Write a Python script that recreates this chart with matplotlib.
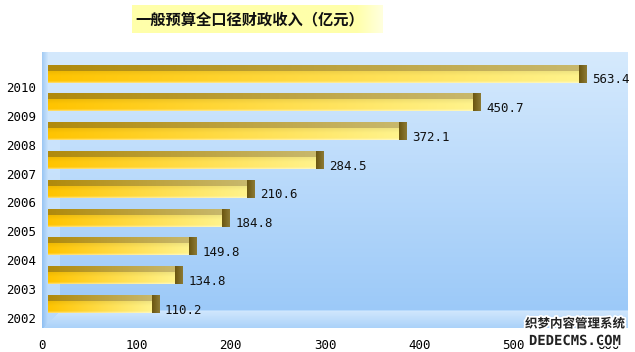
import numpy as np
import matplotlib
matplotlib.use("Agg")
import matplotlib.pyplot as plt
from matplotlib import patheffects as pe
from matplotlib.colors import to_rgb
from matplotlib.patches import Rectangle

# ---- data ----
title = "一般预算全口径财政收入（亿元）"
years = ["2002", "2003", "2004", "2005", "2006", "2007", "2008", "2009", "2010"]
values = [110.2, 134.8, 149.8, 184.8, 210.6, 284.5, 372.1, 450.7, 563.4]
xticks = [0, 100, 200, 300, 400, 500, 600]
watermark1 = "织梦内容管理系统"
watermark2 = "DEDECMS.COM"

# ---- layout ----
W, H = 635, 352
fig = plt.figure(figsize=(W / 100, H / 100), dpi=100)
fig.patch.set_facecolor("white")
L, R, T, B = 42, 628, 52, 328
ax = fig.add_axes([L / W, 1 - B / H, (R - L) / W, (B - T) / H])

ppu = 566 / 600.0          # pixels per data unit on x
row = 28.9                 # pixels per category
xmax = (R - L) / ppu
ylo = -21 / row
yhi = len(years) - 1 + (76.7 - 52) / row


def grad_h(c0, c1, n=256):
    a, b = np.array(to_rgb(c0)), np.array(to_rgb(c1))
    t = np.linspace(0, 1, n)[:, None]
    return a * (1 - t) + b * t


# ---- background (wall + left wall + floor) ----
hpx, wpx = B - T, R - L
top_c, bot_c = np.array(to_rgb("#d6eafd")), np.array(to_rgb("#98c7f8"))
tv = np.linspace(0, 1, hpx)[:, None, None]
bg = top_c * (1 - tv) + bot_c * tv
bg = np.repeat(bg, wpx, axis=1)
# left wall strip
lw = np.array(to_rgb("#d2e8fd"))
edge = np.array(to_rgb("#8cbdf0"))
for c in range(0, 18):
    if c < 6:
        f = c / 6.0
        col = edge * (1 - f) + lw * f
        bg[:, c, :] = bg[:, c, :] * 0.35 + col * 0.65
    else:
        bg[:, c, :] = bg[:, c, :] * 0.45 + lw * 0.55
# floor
fl_top, fl_bot = np.array(to_rgb("#cfe6fd")), np.array(to_rgb("#a9d1f9"))
fh_px = 17
for r in range(hpx - fh_px, hpx):
    f = (r - (hpx - fh_px)) / fh_px
    start = max(0, int(18 - (r - (hpx - fh_px))))
    bg[r, start:, :] = fl_top * (1 - f) + fl_bot * f
bg[hpx - fh_px - 1, 18:, :] = np.array(to_rgb("#b8dafc"))
ax.imshow(bg, extent=[0, 1, 0, 1], transform=ax.transAxes, aspect="auto",
          interpolation="bilinear", zorder=0)

# ---- bars ----
off = 6 / ppu
cap_w = 8 / ppu
face_h = 12 / row
band_h = 5.5 / row
for i, (yr, v) in enumerate(zip(years, values)):
    x0, x1 = off, off + v
    # face: horizontal gold->pale gradient with vertical shading
    hz = grad_h("#ffc400", "#fff38c", 200)
    ny = 24
    vv = np.linspace(0, 1, ny)  # 0 bottom, 1 top
    shade = np.where(vv < 0.15, 0.45 * (1 - vv / 0.15), 0.0)
    face = hz[None, :, :] * (1 - shade[:, None, None]) + shade[:, None, None] * 1.0
    darken = 1 - 0.06 * np.clip((vv - 0.6) / 0.4, 0, 1)
    face = face * darken[:, None, None]
    ax.imshow(face, extent=[x0, x1, i - face_h / 2, i + face_h / 2], origin="lower",
              aspect="auto", interpolation="bilinear", zorder=2)
    # top band
    band = grad_h("#b08a0c", "#c8b86c", 200)[None, :, :]
    band = np.repeat(band, 6, axis=0)
    ax.imshow(band, extent=[x0, x1, i + face_h / 2, i + face_h / 2 + band_h],
              origin="lower", aspect="auto", interpolation="bilinear", zorder=2)
    # end cap
    cap = grad_h("#6b5610", "#8c7a34", 20)[None, :, :]
    cap = np.repeat(cap, 4, axis=0)
    ax.imshow(cap, extent=[x1, x1 + cap_w, i - face_h / 2, i + face_h / 2 + band_h],
              origin="lower", aspect="auto", interpolation="bilinear", zorder=3)
    ax.text(x1 + cap_w + 5 / ppu, i - 3 / row, f"{v:.1f}", ha="left", va="center",
            fontsize=9, family="DejaVu Sans Mono", color="#111111", zorder=4)

ax.set_xlim(0, xmax)
ax.set_ylim(ylo, yhi)
ax.set_xticks(xticks)
ax.set_xticklabels([str(t) for t in xticks], family="DejaVu Sans Mono", fontsize=9)
ax.set_yticks(np.arange(len(years)) - 10.5 / row)
ax.set_yticklabels(years, family="DejaVu Sans Mono", fontsize=9)
ax.tick_params(axis="both", length=0)
ax.tick_params(axis="x", pad=8)
ax.tick_params(axis="y", pad=4)
for s in ax.spines.values():
    s.set_visible(False)

# ---- title box ----
tb = fig.add_axes([132 / W, 1 - 33 / H, (383 - 132) / W, 28 / H])
tgrad = np.ones((4, 100, 3)) * np.array(to_rgb("#ffffaa"))
fade = np.clip((np.linspace(0, 1, 100) - 0.9) / 0.1, 0, 1)
tgrad = tgrad * (1 - fade[None, :, None] * 0.6) + fade[None, :, None] * 0.6
tb.imshow(tgrad, extent=[0, 1, 0, 1], aspect="auto", interpolation="bilinear")
tb.set_axis_off()
fig.text(135 / W, 1 - 19 / H, title, ha="left", va="center", fontsize=11,
         family=["Noto Sans CJK SC", "DejaVu Sans"], weight="bold", color="#111111")

# ---- watermark ----
stroke = [pe.withStroke(linewidth=2.5, foreground="white")]
fig.text(575 / W, 1 - 324 / H, watermark1, ha="center", va="center", fontsize=9,
         family=["Noto Sans CJK SC", "DejaVu Sans"], weight="bold", color="#222222",
         path_effects=stroke, zorder=10)
fig.text(575 / W, 1 - 341 / H, watermark2, ha="center", va="center", fontsize=10,
         family="DejaVu Sans Mono", weight="bold", color="#222222",
         path_effects=stroke, zorder=10)

fig.savefig("out.png", dpi=100, facecolor="white")
